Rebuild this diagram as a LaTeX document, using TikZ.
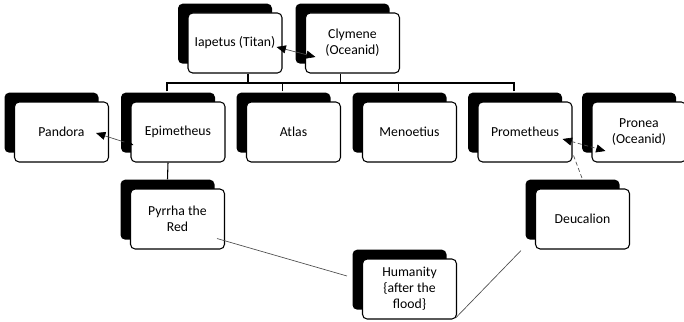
\documentclass[tikz,border=0pt]{standalone}
\usepackage{fontspec}
\setmainfont{Carlito}
\usetikzlibrary{shadows,calc,arrows.meta}

\begin{document}
\begin{tikzpicture}[x=0.75pt,y=-0.75pt,
    person/.style={draw=black,line width=0.8pt,fill=white,rounded corners=3.5pt,
      minimum width=70.5pt,minimum height=45pt,align=center,inner sep=1pt,
      font=\fontsize{10.3}{12}\selectfont,
      general shadow={fill=black,shadow xshift=-7.5pt,shadow yshift=7pt}},
    tree/.style={draw=black,line width=0.8pt},
    link/.style={draw=black!70,line width=0.5pt},
    twoway/.style={link,{Triangle[length=7pt,width=6pt,color=black]}-{Triangle[length=7pt,width=6pt,color=black]}}]
    \useasboundingbox (0,0) rectangle (684,321);

    % Titanes arriba
    \node[person] (iapetus) at (235,43) {Iapetus (Titan)};
    \node[person] (clymene) at (352.5,43) {Clymene\\(Oceanid)};

    % Hijos y esposas
    \node[person] (pandora) at (61.5,132) {Pandora};
    \node[person] (epimetheus) at (178,132) {Epimetheus};
    \node[person] (atlas) at (293.5,132) {Atlas};
    \node[person] (menoetius) at (409.5,132) {Menoetius};
    \node[person] (prometheus) at (525,132) {Prometheus};
    \node[person] (pronea) at (639,132) {Pronea\\(Oceanid)};

    % Tras el diluvio
    \node[person] (pyrrha) at (177.5,219) {Pyrrha the\\Red};
    \node[person] (deucalion) at (582.5,219) {Deucalion};
    \node[person] (humanity) at (409.5,289) {Humanity\\\{after the\\flood\}};

    % Arbol
    \coordinate (busL) at (167,83);
    \coordinate (busR) at (514,83);
    \draw[tree] (busL) -- (busR);
    \draw[tree] ($(iapetus.south)+(13,0)$) -- ++(0,10);
    \draw[tree] ($(clymene.south)+(-12,0)$) -- ++(0,10);
    \foreach \n in {epimetheus,atlas,menoetius,prometheus}
      \draw[tree] ($(\n.north)+(-11,-10)$) -- ++(0,-9);
    \draw[tree] ($(epimetheus.south)+(-10,0)$) -- ($(pyrrha.north)+(-10,-9)$);

    % Parejas
    \draw[twoway] ($(iapetus.east)+(-6,4)$) -- ($(clymene.west)+(10.5,14)$);
    \draw[twoway] ($(epimetheus.west)+(3,13)$) -- ($(pandora.east)+(-13,1)$);
    \draw[twoway,densely dashed] ($(prometheus.east)+(-10,7)$) -- ($(pronea.west)+(14,19)$);
    \draw[link,densely dashed] ($(prometheus.south east)+(1,-7)$) -- ($(deucalion.north)+(0,-9)$);
    \draw[link] ($(pyrrha.south east)+(-8,-11)$) -- ($(humanity.west)+(-15,-13)$);
    \draw[link] ($(humanity.south east)+(-1,-2)$) -- ($(deucalion.south west)+(-14,1)$);
\end{tikzpicture}
\end{document}
